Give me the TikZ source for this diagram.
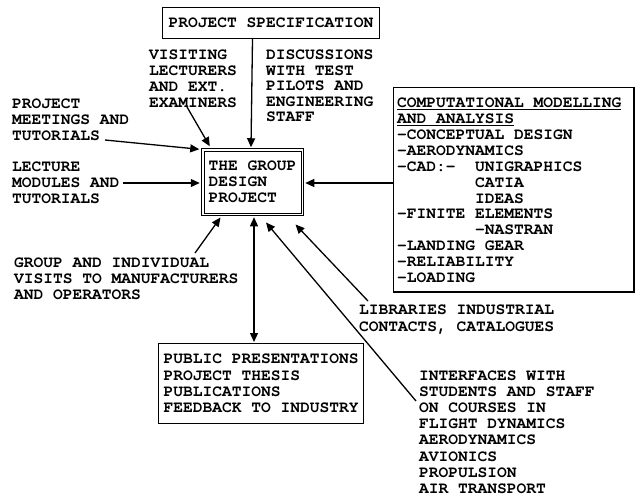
\documentclass[tikz,border=0pt]{standalone}
\usepackage{fontspec}
\newfontfamily\twfont{TeX Gyre Cursor}
\usetikzlibrary{arrows.meta,calc}
\newcommand{\twf}[1]{\twfont\bfseries\fontsize{16.25}{#1}\selectfont}
\begin{document}
\begin{tikzpicture}[x=1pt,y=-1pt,
  txt/.style={font=\twf{15.9}, inner sep=0pt, anchor=base west, align=left},
  boxed/.style={draw, line width=1.3pt, inner sep=0pt, align=left, font=\twf{15.9}},
  arr/.style={line width=1.3pt, -{Triangle[length=9pt,width=8pt]}},
  arrtwo/.style={line width=1.3pt, {Triangle[length=9pt,width=8pt]}-{Triangle[length=9pt,width=8pt]}},
  ln/.style={line width=1.3pt}
]
\useasboundingbox (0,0) rectangle (636,498);
\fill[white] (0,0) rectangle (636,498);

% boxes
\node[boxed, minimum width=216.7, minimum height=30.7] (spec) at (271,23) {PROJECT SPECIFICATION};
\node[boxed, double, line width=1pt, double distance=1.5pt, minimum width=99.5, minimum height=64.5] (gdp) at (252.5,182) {THE GROUP\\DESIGN\\PROJECT};
\node[boxed, font=\twf{16.3}, minimum width=204.7, minimum height=79.7] (pub) at (261,383.5) {PUBLIC PRESENTATIONS\\PROJECT THESIS\\PUBLICATIONS\\FEEDBACK TO INDUSTRY};
\node[draw, line width=1.3pt, inner sep=0pt, anchor=north west, minimum width=240.7, minimum height=204.7] (cm) at (392.65,86.65) {};
% (multi-line text nodes are placed by the baseline of their last line)
\node[txt] (cmtext) at (397,282.5) {\underline{COMPUTATIONAL MODELLING}\\\underline{AND ANALYSIS}\\-CONCEPTUAL DESIGN\\-AERODYNAMICS\\-CAD:-\phantom{xx}UNIGRAPHICS\\\phantom{-CAD:-xx}CATIA\\\phantom{-CAD:-xx}IDEAS\\-FINITE ELEMENTS\\\phantom{-FINITE }-NASTRAN\\-LANDING GEAR\\-RELIABILITY\\-LOADING};

% labels
\node[txt] (vis) at (149,107.2) {VISITING\\LECTURERS\\AND EXT.\\EXAMINERS};
\node[txt, font=\twf{15.6}] (disc) at (266,121.9) {DISCUSSIONS\\WITH TEST\\PILOTS AND\\ENGINEERING\\STAFF};
\node[txt] (meet) at (12,140.3) {PROJECT\\MEETINGS AND\\TUTORIALS};
\node[txt] (lect) at (12,203.3) {LECTURE\\MODULES AND\\TUTORIALS};
\node[txt, font=\twf{16}] (gv) at (14,299.5) {GROUP AND INDIVIDUAL\\VISITS TO MANUFACTURERS\\AND OPERATORS};
\node[txt, font=\twf{16.5}] (lib) at (359,331) {LIBRARIES INDUSTRIAL\\CONTACTS, CATALOGUES};
\node[txt, font=\twf{16.1}] (int) at (419,493.2) {INTERFACES WITH\\STUDENTS AND STAFF\\ON COURSES IN\\FLIGHT DYNAMICS\\AERODYNAMICS\\AVIONICS\\PROPULSION\\AIR TRANSPORT};

% free ends of connectors
\coordinate (visS) at (187,107);
\coordinate (meetS) at (105,140);
\coordinate (lectS) at (123,183);
\coordinate (gvS) at (195,253);
\coordinate (libS) at (368,301);
\coordinate (intS) at (416,401);
\coordinate (dtop) at ($(gdp.south)+(1.5,2.5)$);

% connectors
\draw[arr] (spec.south -| gdp.north) -- ($(gdp.north)+(-1.5,-2)$);
\draw[arr] (visS) -- ($(gdp.north west)+(7.5,-3)$);
\draw[arr] (meetS) -- ($(gdp.north west)+(-3,0)$);
\draw[arr] (lectS) -- ($(gdp.west)+(-2.5,1)$);
\draw[arr] (cm.west |- lectS) -- ($(gdp.east)+(2.5,1)$);
\draw[arr] (gvS) -- ($(gdp.south west)+(18.25,2.75)$);
\draw[arrtwo] (dtop) -- ($(dtop |- pub.north)+(0,-1)$);
\draw[arr] (libS) -- ($(gdp.south east)+(-7.25,9.75)$);
\draw[arr] (intS) -- ($(gdp.south)+(13.5,7.75)$);
\end{tikzpicture}
\end{document}
